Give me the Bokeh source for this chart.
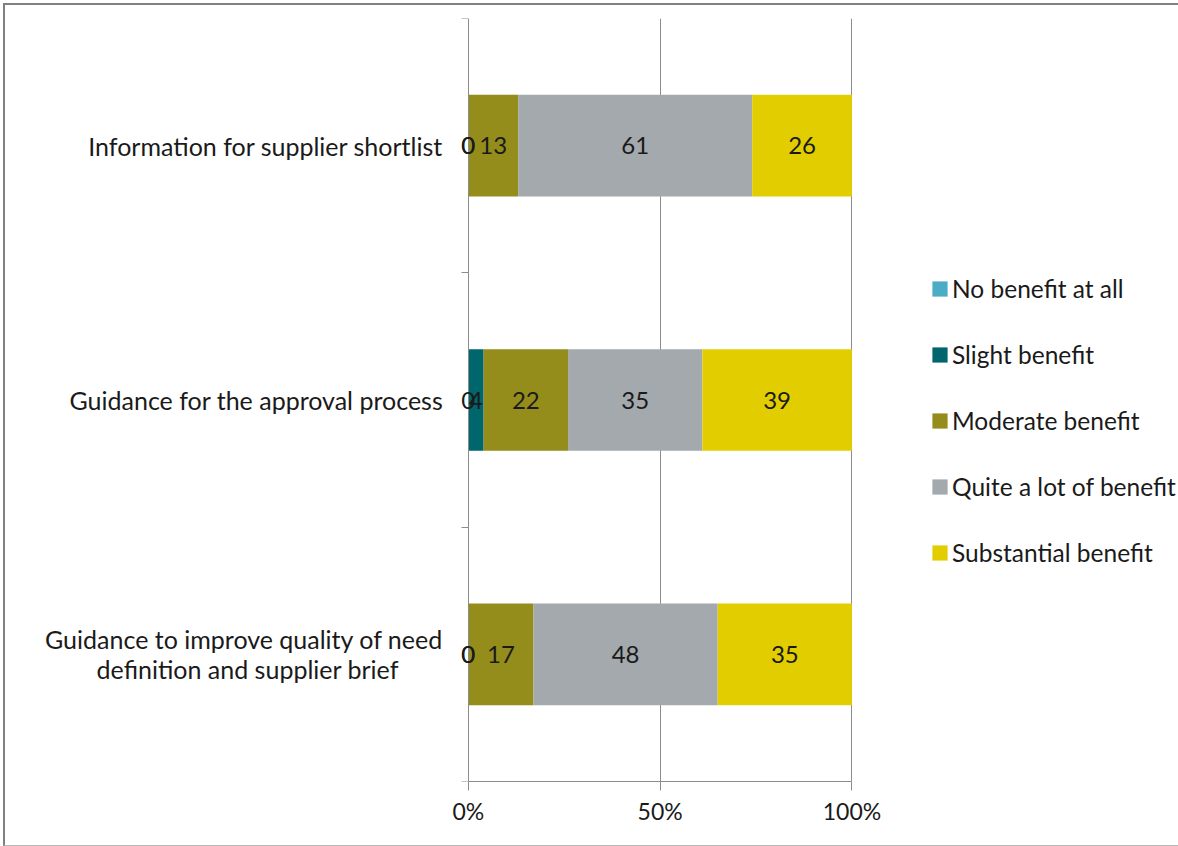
import numpy as np
from bokeh.plotting import figure
from bokeh.models import (ColumnDataSource, FixedTicker, Legend, LegendItem, Range1d, LabelSet)
from bokeh.core.properties import value
from bokeh.embed import file_html
from bokeh.resources import INLINE

# ---- data ----
categories = [
    "Information for supplier shortlist",
    "Guidance for the approval process",
    "Guidance to improve quality of need\ndefinition and supplier brief",
]
series = ["No benefit at all", "Slight benefit", "Moderate benefit",
          "Quite a lot of benefit", "Substantial benefit"]
no_benefit = [0, 0, 0]
slight_benefit = [0, 4, 0]
moderate_benefit = [13, 22, 17]
quite_a_lot = [61, 35, 48]
substantial = [26, 39, 35]
x_ticks = [0, 50, 100]
x_tick_labels = ["0%", "50%", "100%"]

colors = ["#4BACC6", "#00666E", "#958D1B", "#A3A9AC", "#E2CE00"]
FONT = "Lato"
AXIS_COLOR = "#8C8C8C"
TEXT_COLOR = "#1a1a1a"

# ---- layout (pixels) ----
MARGIN = 3
BORDER_L, BORDER_T, BORDER_B = 2, 2, 1
W, H = 1178 - MARGIN, 846 - MARGIN
CANVAS_W = W - BORDER_L
OFF = MARGIN + BORDER_L                # screen x of canvas x = 0
X0_PX, X100_PX = 467 - OFF, 850 - OFF  # canvas px of 0% and 100%
px_per_unit = (X100_PX - X0_PX) / 100.0
x_start = -X0_PX / px_per_unit
x_end = 100 + (CANVAS_W - X100_PX) / px_per_unit

n = len(categories)
ypos = [n - i - 0.5 for i in range(n)]  # top to bottom
vals = np.array([no_benefit, slight_benefit, moderate_benefit, quite_a_lot, substantial], dtype=float)
totals = vals.sum(axis=0)
pct = vals / totals * 100
left = np.vstack([np.zeros(n), np.cumsum(pct, axis=0)[:-1]])
right = left + pct

p = figure(width=W, height=H, output_backend="svg", toolbar_location=None,
           x_range=Range1d(x_start, x_end), y_range=Range1d(0, n),
           min_border_left=0, min_border_right=0, min_border_top=13, min_border_bottom=67)
p.outline_line_color = None
p.background_fill_color = "white"
p.border_fill_color = "white"

renderers = []
for k, name in enumerate(series):
    src = ColumnDataSource(dict(y=ypos, left=left[k], right=right[k]))
    r = p.hbar(y="y", left="left", right="right", height=0.4, source=src,
               fill_color=colors[k], line_color=None)
    renderers.append(r)

# data labels
for k, name in enumerate(series):
    centers = (left[k] + right[k]) / 2
    src = ColumnDataSource(dict(x=centers, y=ypos, t=[str(int(v)) for v in vals[k]]))
    p.add_layout(LabelSet(x="x", y="y", text="t", source=src, text_align="center",
                          text_baseline="middle", text_font=value(FONT),
                          text_font_size=value("24px"), text_color=value(TEXT_COLOR)))


def centered_label(s):
    # axis labels are right-aligned: pad shorter lines so the lines look centred
    lines = s.split("\n")
    if len(lines) == 1:
        return s
    longest = max(len(l) for l in lines)
    return "\n".join(l + "\u00a0" * int(round((longest - len(l)) * 1.2)) for l in lines)


# x axis
p.xaxis.ticker = FixedTicker(ticks=x_ticks)
p.xaxis.bounds = (x_ticks[0], x_ticks[-1])
p.xaxis.major_label_overrides = {t: l for t, l in zip(x_ticks, x_tick_labels)}
p.xaxis.major_tick_out = 9
p.xaxis.major_tick_in = 0
p.xaxis.minor_tick_line_color = None
p.xaxis.axis_line_color = AXIS_COLOR
p.xaxis.major_tick_line_color = AXIS_COLOR
p.xaxis.major_label_text_font = FONT
p.xaxis.major_label_text_font_size = "23px"
p.xaxis.major_label_text_color = TEXT_COLOR
p.xaxis.major_label_standoff = 6

# y axis, fixed at x = 0
p.yaxis.fixed_location = 0
p.yaxis.ticker = FixedTicker(ticks=ypos, minor_ticks=list(range(n + 1)))
p.yaxis.major_label_overrides = {y: centered_label(c) for y, c in zip(ypos, categories)}
p.yaxis.major_tick_out = 0
p.yaxis.major_tick_in = 0
p.yaxis.minor_tick_out = 7
p.yaxis.minor_tick_in = 0
p.yaxis.minor_tick_line_color = AXIS_COLOR
p.yaxis.axis_line_color = AXIS_COLOR
p.yaxis.major_label_text_font = FONT
p.yaxis.major_label_text_font_size = "25px"
p.yaxis.major_label_text_color = TEXT_COLOR
p.yaxis.major_label_text_line_height = 1.0
p.yaxis.major_label_standoff = 18

p.xgrid.ticker = FixedTicker(ticks=x_ticks[1:])
p.xgrid.grid_line_color = AXIS_COLOR
p.ygrid.grid_line_color = None

legend = Legend(items=[LegendItem(label=s, renderers=[r]) for s, r in zip(series, renderers)],
                location=(930 - OFF, 214), orientation="vertical",
                glyph_width=19, glyph_height=19, label_height=26, spacing=37,
                label_standoff=3, padding=0, margin=0,
                border_line_color=None, background_fill_alpha=0,
                label_text_font=FONT, label_text_font_size="24.5px", label_text_color=TEXT_COLOR)
p.add_layout(legend, "center")

p.styles = {"border-top": f"{BORDER_T}px solid #808080", "border-left": f"{BORDER_L}px solid #808080",
            "border-bottom": f"{BORDER_B}px solid #BBBBBB", "box-sizing": "border-box",
            "margin-left": f"{MARGIN}px", "margin-top": f"{MARGIN}px"}

open("out.html", "w").write(file_html(p, INLINE))
